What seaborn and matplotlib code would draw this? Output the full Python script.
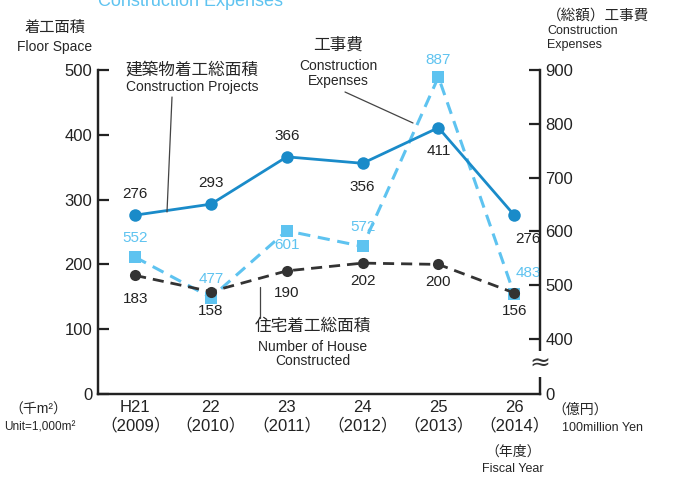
import pandas as pd
import matplotlib.pyplot as plt
import seaborn as sns

sns.set_style('white')
plt.rcParams['font.family'] = ['Liberation Sans', 'Noto Sans CJK JP']

# data
years = ['H21\n（2009）', '22\n（2010）', '23\n（2011）', '24\n（2012）',
         '25\n（2013）', '26\n（2014）']
projects = [276, 293, 366, 356, 411, 276]   # 千m2
houses = [183, 158, 190, 202, 200, 156]     # 千m2
expenses = [552, 477, 601, 572, 887, 483]   # 億円

BLUE = '#1a8bc9'
LIGHT = '#5ec3f0'
DARK = '#333333'

df = pd.DataFrame({'x': range(len(years)), 'projects': projects,
                   'houses': houses, 'expenses': expenses})

fig = plt.figure(figsize=(6.73, 4.79), dpi=100)
ax = fig.add_axes([98 / 673, 1 - 394 / 479, 442 / 673, 324 / 479])
ax2 = ax.twinx()

sns.lineplot(x='x', y='expenses', data=df, ax=ax2, color=LIGHT, lw=2.2,
             marker='s', markersize=8, markeredgewidth=0, linestyle=(0, (4, 2.5)))
sns.lineplot(x='x', y='houses', data=df, ax=ax, color=DARK, lw=2,
             marker='o', markersize=8, markeredgewidth=0, linestyle=(0, (4, 2.5)))
sns.lineplot(x='x', y='projects', data=df, ax=ax, color=BLUE, lw=2,
             marker='o', markersize=9, markeredgewidth=0)
ax.set_zorder(ax2.get_zorder() + 1)
ax.patch.set_visible(False)

ax.set_xlim(-0.49, 5.34)
ax.set_ylim(0, 500)
ax2.set_ylim(297.6, 900)
ax.set_xticks(range(len(years)))
ax.set_xticklabels(years)
ax.set_yticks([0, 100, 200, 300, 400, 500])
ax2.set_yticks([297.6, 400, 500, 600, 700, 800, 900])
ax2.set_yticklabels(['0', '400', '500', '600', '700', '800', '900'])
ax.set_xlabel('')
ax.set_ylabel('')
ax2.set_ylabel('')

for a in (ax, ax2):
    for s in a.spines.values():
        s.set_color('#222222')
        s.set_linewidth(1.6)
    a.spines['top'].set_visible(False)
ax.tick_params(axis='both', direction='in', length=8, width=1.6, labelsize=12,
               colors='#222222')
ax.tick_params(axis='x', pad=4)
ax.tick_params(axis='y', pad=4)
ax2.tick_params(axis='y', direction='in', length=8, width=1.6, labelsize=12,
                colors='#222222', pad=4)
ax2.yaxis.get_major_ticks()[0].tick2line.set_visible(False)

# data labels
proj_off = [(0, 15), (0, 15), (0, 15), (0, -17), (0, -17), (10, -17)]
for i, v in enumerate(projects):
    ax.annotate(str(v), (i, v), xytext=proj_off[i], textcoords='offset points',
                ha='center', va='center', fontsize=11, color='#222222')
house_off = [(0, -17), (0, -14), (0, -16), (0, -13), (0, -13), (0, -13)]
for i, v in enumerate(houses):
    ax.annotate(str(v), (i, v), xytext=house_off[i], textcoords='offset points',
                ha='center', va='center', fontsize=11, color='#222222')
exp_off = [(0, 14), (0, 13), (0, -10), (0, 14), (0, 12), (10, 15)]
for i, v in enumerate(expenses):
    ax2.annotate(str(v), (i, v), xytext=exp_off[i], textcoords='offset points',
                 ha='center', va='center', fontsize=11, color=LIGHT)

# series captions with leader lines
def px(x, y):
    return (x / 673, 1 - y / 479)

fs = fig.text
fs(*px(192, 70), '建築物着工総面積', ha='center', va='center', fontsize=12)
fs(*px(192, 87), 'Construction Projects', ha='center', va='center', fontsize=10)
fs(*px(338, 45), '工事費', ha='center', va='center', fontsize=12)
fs(*px(338, 66), 'Construction', ha='center', va='center', fontsize=10)
fs(*px(338, 81), 'Expenses', ha='center', va='center', fontsize=10)
fs(*px(313, 326), '住宅着工総面積', ha='center', va='center', fontsize=12)
fs(*px(313, 347), 'Number of House', ha='center', va='center', fontsize=10)
fs(*px(313, 361), 'Constructed', ha='center', va='center', fontsize=10)
for (x0, y0), (x1, y1) in [((172, 97), (167, 212)), ((345, 92), (413, 123)),
                           ((260, 287), (260, 318))]:
    a0, b0 = px(x0, y0)
    a1, b1 = px(x1, y1)
    fig.add_artist(plt.Line2D([a0, a1], [b0, b1], color='#444444', lw=0.9))

# axis titles and units
fs(*px(55, 28), '着工面積', ha='center', va='center', fontsize=11)
fs(*px(55, 47), 'Floor Space', ha='center', va='center', fontsize=10)
fs(*px(547, 16), '（総額）工事費', ha='left', va='center', fontsize=10.5)
fs(*px(547, 31), 'Construction', ha='left', va='center', fontsize=9)
fs(*px(547, 45), 'Expenses', ha='left', va='center', fontsize=9)
fs(*px(38, 410), '（千m²）', ha='center', va='center', fontsize=10)
fs(*px(40, 428), 'Unit=1,000m²', ha='center', va='center', fontsize=8.5)
fs(*px(580, 410), '（億円）', ha='center', va='center', fontsize=10)
fs(*px(603, 428), '100million Yen', ha='center', va='center', fontsize=9)
fs(*px(513, 452), '（年度）', ha='center', va='center', fontsize=10)
fs(*px(513, 469), 'Fiscal Year', ha='center', va='center', fontsize=9)
fs(*px(190, 1), 'Construction Expenses', ha='center', va='center', fontsize=13,
   color=LIGHT)

# axis break mark on the right axis
fs(*px(540, 364), '≈', ha='center', va='center', fontsize=18, color='#333333',
   family='DejaVu Sans',
   bbox=dict(boxstyle='square,pad=0.05', fc='white', ec='none'))

fig.savefig('out.png', dpi=100)
